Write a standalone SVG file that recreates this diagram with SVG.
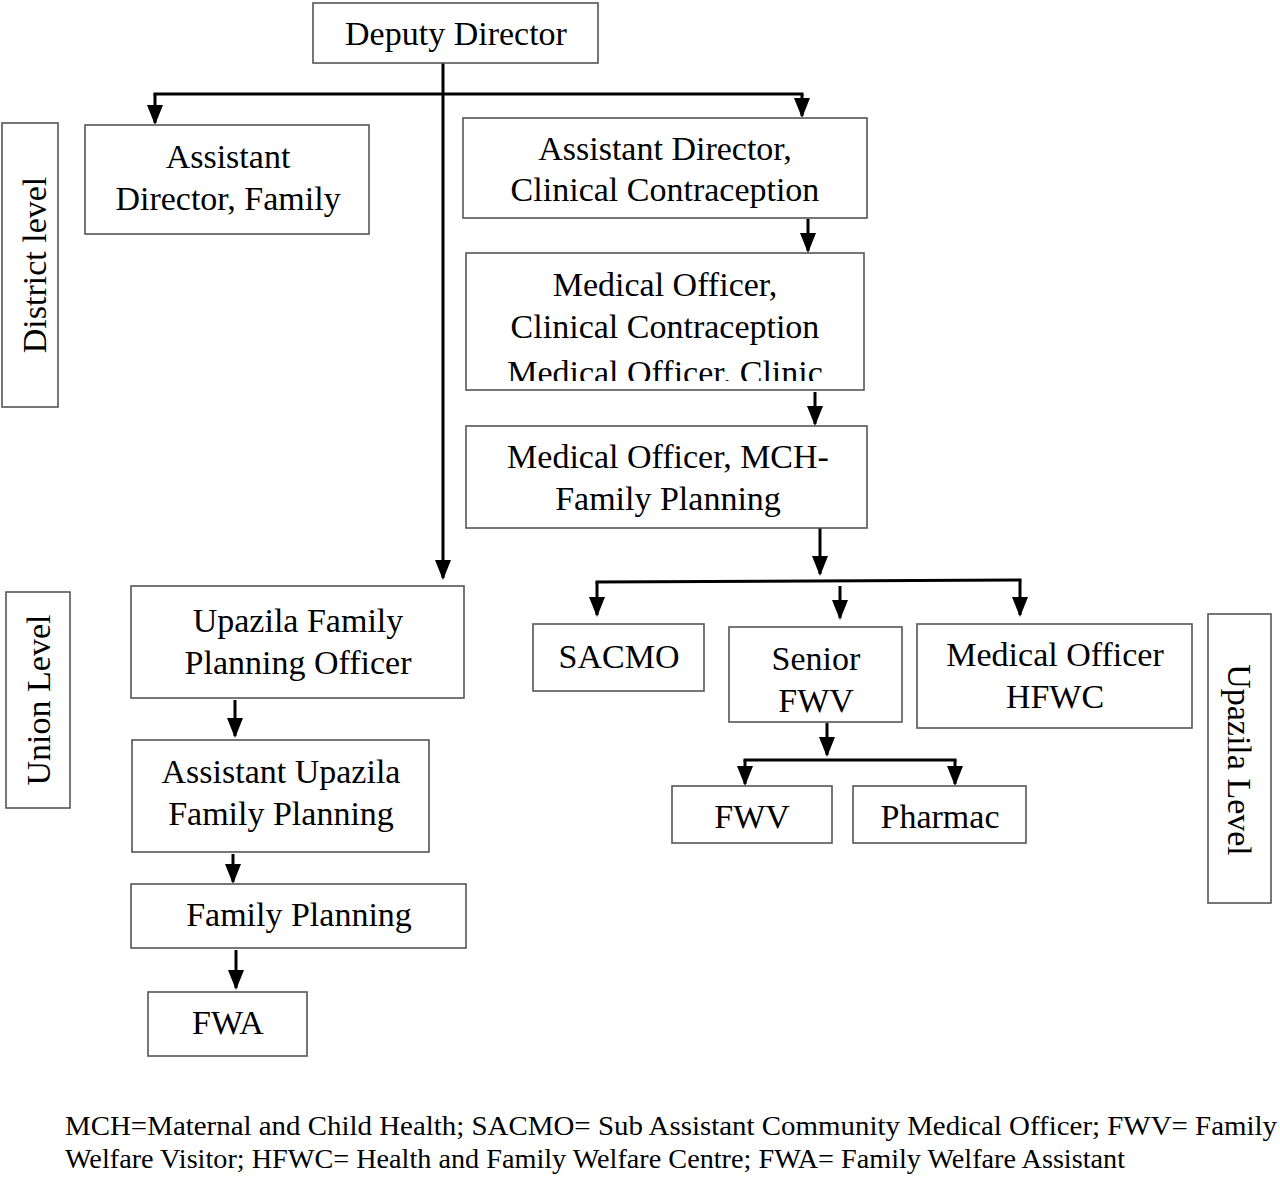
<svg xmlns="http://www.w3.org/2000/svg" width="1280" height="1178" viewBox="0 0 1280 1178">
<style>
.box{fill:#fff;stroke:#555;stroke-width:1.6}
.t{font-family:"Liberation Serif","Times New Roman",serif;font-size:34px;fill:#000;text-anchor:middle}
.c{fill:none;stroke:#000;stroke-width:3}
.f{font-family:"Liberation Serif","Times New Roman",serif;font-size:28px;fill:#000}
</style>
<defs>
<marker id="ah" markerUnits="userSpaceOnUse" markerWidth="20" markerHeight="16" viewBox="0 0 20 16" refX="18" refY="8" orient="auto">
<path d="M0,0 L20,8 L0,16 z" fill="#000"/>
</marker>
<clipPath id="clipMO"><rect x="466" y="253" width="398" height="128"/></clipPath>
</defs>
<rect width="1280" height="1178" fill="#fff"/>

<g id="connectors">
<line class="c" x1="443" y1="63" x2="443" y2="578" marker-end="url(#ah)"/>
<line class="c" x1="153.5" y1="94" x2="803.5" y2="94"/>
<line class="c" x1="155" y1="94" x2="155" y2="123" marker-end="url(#ah)"/>
<line class="c" x1="802" y1="94" x2="802" y2="116" marker-end="url(#ah)"/>
<line class="c" x1="808" y1="219" x2="808" y2="251" marker-end="url(#ah)"/>
<line class="c" x1="815" y1="392" x2="815" y2="424" marker-end="url(#ah)"/>
<line class="c" x1="820" y1="528" x2="820" y2="574" marker-end="url(#ah)"/>
<line class="c" x1="595.5" y1="582" x2="1021.5" y2="580"/>
<line class="c" x1="597" y1="582" x2="597" y2="615" marker-end="url(#ah)"/>
<line class="c" x1="1020" y1="580" x2="1020" y2="615" marker-end="url(#ah)"/>
<line class="c" x1="840" y1="586" x2="840" y2="618" marker-end="url(#ah)"/>
<line class="c" x1="827" y1="723" x2="827" y2="755" marker-end="url(#ah)"/>
<line class="c" x1="743.5" y1="760" x2="956.5" y2="760"/>
<line class="c" x1="745" y1="760" x2="745" y2="784" marker-end="url(#ah)"/>
<line class="c" x1="955" y1="760" x2="955" y2="784" marker-end="url(#ah)"/>
<line class="c" x1="235" y1="700" x2="235" y2="736" marker-end="url(#ah)"/>
<line class="c" x1="233" y1="854" x2="233" y2="882" marker-end="url(#ah)"/>
<line class="c" x1="236" y1="950" x2="236" y2="988" marker-end="url(#ah)"/>
</g>

<g id="deputy-director">
<rect class="box" x="313" y="3" width="285" height="60"/>
<text class="t" x="456" y="45">Deputy Director</text>
</g>
<g id="assistant-director-family">
<rect class="box" x="85" y="125" width="284" height="109"/>
<text class="t" x="228" y="168">Assistant</text>
<text class="t" x="228" y="210">Director, Family</text>
</g>
<g id="assistant-director-cc">
<rect class="box" x="463" y="118" width="404" height="100"/>
<text class="t" x="665" y="160">Assistant Director,</text>
<text class="t" x="665" y="201">Clinical Contraception</text>
</g>
<g id="medical-officer-cc">
<rect class="box" x="466" y="253" width="398" height="137"/>
<text class="t" x="665" y="296">Medical Officer,</text>
<text class="t" x="665" y="338">Clinical Contraception</text>
<text class="t" x="665" y="384" clip-path="url(#clipMO)">Medical Officer. Clinic</text>
</g>
<g id="medical-officer-mch">
<rect class="box" x="466" y="426" width="401" height="102"/>
<text class="t" x="668" y="468">Medical Officer, MCH-</text>
<text class="t" x="668" y="510">Family Planning</text>
</g>
<g id="sacmo">
<rect class="box" x="533" y="624" width="171" height="67"/>
<text class="t" x="619" y="668">SACMO</text>
</g>
<g id="senior-fwv">
<rect class="box" x="729" y="627" width="173" height="95"/>
<text class="t" x="816" y="670">Senior</text>
<text class="t" x="816" y="712">FWV</text>
</g>
<g id="medical-officer-hfwc">
<rect class="box" x="917" y="624" width="275" height="104"/>
<text class="t" x="1055" y="666">Medical Officer</text>
<text class="t" x="1055" y="708">HFWC</text>
</g>
<g id="fwv">
<rect class="box" x="672" y="786" width="160" height="57"/>
<text class="t" x="752" y="828">FWV</text>
</g>
<g id="pharmac">
<rect class="box" x="853" y="786" width="173" height="57"/>
<text class="t" x="940" y="828">Pharmac</text>
</g>
<g id="upazila-fpo">
<rect class="box" x="131" y="586" width="333" height="112"/>
<text class="t" x="298" y="632">Upazila Family</text>
<text class="t" x="298" y="674">Planning Officer</text>
</g>
<g id="assistant-upazila-fp">
<rect class="box" x="132" y="740" width="297" height="112"/>
<text class="t" x="281" y="783">Assistant Upazila</text>
<text class="t" x="281" y="825">Family Planning</text>
</g>
<g id="family-planning">
<rect class="box" x="131" y="884" width="335" height="64"/>
<text class="t" x="299" y="926">Family Planning</text>
</g>
<g id="fwa">
<rect class="box" x="148" y="992" width="159" height="64"/>
<text class="t" x="228" y="1034">FWA</text>
</g>

<g id="district-level">
<rect class="box" x="2" y="123" width="56" height="284"/>
<text class="t" transform="translate(46,265) rotate(-90)">District level</text>
</g>
<g id="union-level">
<rect class="box" x="6" y="592" width="64" height="216"/>
<text class="t" transform="translate(50,700) rotate(-90)">Union Level</text>
</g>
<g id="upazila-level">
<rect class="box" x="1208" y="614" width="63" height="289"/>
<text class="t" transform="translate(1228,760) rotate(90)">Upazila Level</text>
</g>

<g id="footnote">
<text class="f" x="65" y="1135" textLength="1212" lengthAdjust="spacingAndGlyphs">MCH=Maternal and Child Health; SACMO= Sub Assistant Community Medical Officer; FWV= Family</text>
<text class="f" x="65" y="1168" textLength="1060" lengthAdjust="spacingAndGlyphs">Welfare Visitor; HFWC= Health and Family Welfare Centre; FWA= Family Welfare Assistant</text>
</g>
</svg>
